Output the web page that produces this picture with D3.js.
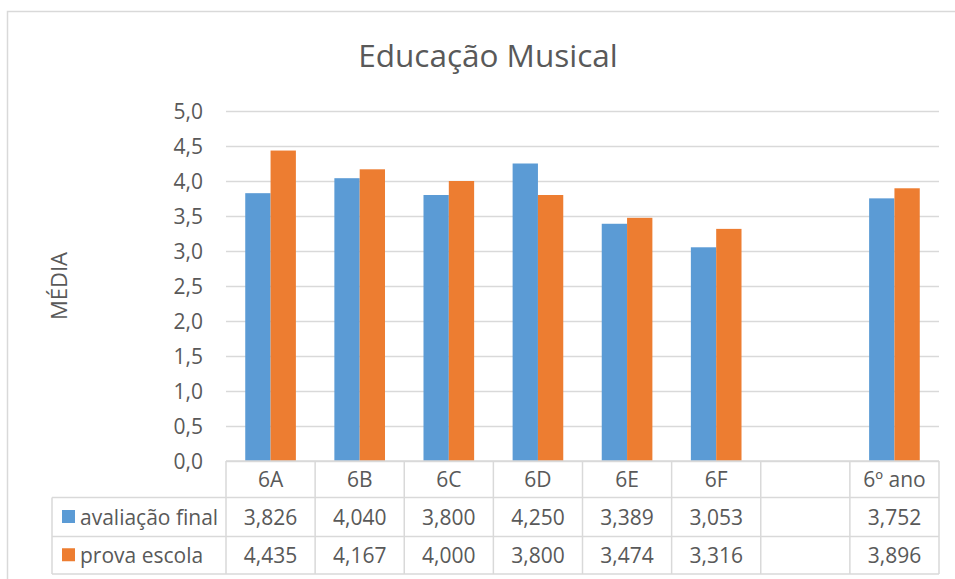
<!DOCTYPE html>
<html>
<head>
<meta charset="utf-8">
<script src="https://cdn.jsdelivr.net/npm/d3@7"></script>
<style>
  html, body { margin: 0; padding: 0; background: #fff; }
  svg text { font-family: "Open Sans", Lato, sans-serif; fill: #595959; }
</style>
</head>
<body>
<svg id="chart" width="955" height="579"></svg>
<script>
// Class groups along the x axis (one empty slot before the year total)
const categories = ["6A", "6B", "6C", "6D", "6E", "6F", "", "6º ano"];
const seriesNames = ["avaliação final", "prova escola"];
const avaliacaoFinal = [3.826, 4.040, 3.800, 4.250, 3.389, 3.053, null, 3.752];
const provaEscola = [4.435, 4.167, 4.000, 3.800, 3.474, 3.316, null, 3.896];
const yTicks = [0, 0.5, 1, 1.5, 2, 2.5, 3, 3.5, 4, 4.5, 5];
const seriesColors = ["#5B9BD5", "#ED7D31"];

const series = [avaliacaoFinal, provaEscola];

const pt = d3.formatLocale({ decimal: ",", thousands: ".", grouping: [3], currency: ["", "€"] });
const fmtTick = pt.format(".1f");
const fmtVal = pt.format(".3f");

const svg = d3.select("#chart");
const gridColor = "#d9d9d9";
const fontSize = "21px";

// Chart frame
svg.append("rect")
  .attr("x", 7.5).attr("y", 11.5)
  .attr("width", 960).attr("height", 600)
  .attr("fill", "none").attr("stroke", gridColor).attr("stroke-width", 1.5);

// Title
svg.append("text")
  .attr("x", 488).attr("y", 67)
  .attr("text-anchor", "middle")
  .style("font-size", "31.5px")
  .text("Educação Musical");

// Scales
const plotLeft = 226, plotRight = 939, plotTop = 111, plotBottom = 461;
const x = d3.scaleBand()
  .domain(d3.range(categories.length))
  .range([plotLeft, plotRight])
  .paddingInner(0).paddingOuter(0);
const xs = d3.scaleBand()
  .domain(d3.range(series.length))
  .range([0, x.bandwidth()])
  .paddingInner(0).paddingOuter(0.76);
const y = d3.scaleLinear().domain([0, 5]).range([plotBottom, plotTop]);

// Gridlines and y-axis labels
const yAxis = d3.axisLeft(y)
  .tickValues(yTicks)
  .tickFormat(fmtTick)
  .tickSize(-(plotRight - plotLeft))
  .tickPadding(23);
const gy = svg.append("g")
  .attr("transform", `translate(${plotLeft},0)`)
  .call(yAxis);
gy.select(".domain").remove();
gy.selectAll(".tick line").attr("stroke", gridColor).attr("stroke-width", 1.5);
gy.selectAll(".tick text")
  .style("font-size", fontSize)
  .attr("dy", "0.36em");

// Y-axis title
svg.append("text")
  .attr("transform", "translate(67,286) rotate(-90)")
  .attr("text-anchor", "middle")
  .style("font-size", "22px")
  .text("MÉDIA");

// Bars
series.forEach((vals, si) => {
  svg.append("g")
    .selectAll("rect")
    .data(vals.map((v, i) => ({ v, i })).filter(d => d.v != null))
    .join("rect")
    .attr("x", d => x(d.i) + xs(si))
    .attr("width", xs.bandwidth())
    .attr("y", d => y(d.v))
    .attr("height", d => y(0) - y(d.v))
    .attr("fill", seriesColors[si]);
});

// Data table below the axis
const rowTop = [plotBottom, 497.5, 536.5];
const rowBottom = 574;
const tableLeft = 52;
const table = svg.append("g")
  .attr("stroke", gridColor).attr("stroke-width", 1.5).attr("fill", "none");

// horizontal rules
table.append("line").attr("x1", plotLeft).attr("x2", plotRight)
  .attr("y1", rowTop[0]).attr("y2", rowTop[0]);
[rowTop[1], rowTop[2], rowBottom].forEach(yy => {
  table.append("line").attr("x1", tableLeft).attr("x2", plotRight)
    .attr("y1", yy).attr("y2", yy);
});
// vertical rules
table.append("line").attr("x1", tableLeft).attr("x2", tableLeft)
  .attr("y1", rowTop[1]).attr("y2", rowBottom);
d3.range(categories.length + 1).forEach(i => {
  const xx = i < categories.length ? x(i) : plotRight;
  table.append("line").attr("x1", xx).attr("x2", xx)
    .attr("y1", rowTop[0]).attr("y2", rowBottom);
});

// header labels
svg.append("g").selectAll("text")
  .data(categories)
  .join("text")
  .attr("x", (d, i) => x(i) + x.bandwidth() / 2)
  .attr("y", (rowTop[0] + rowTop[1]) / 2)
  .attr("dy", "0.36em")
  .attr("text-anchor", "middle")
  .style("font-size", fontSize)
  .text(d => d);

// series rows
series.forEach((vals, si) => {
  const top = rowTop[si + 1];
  const bottom = si + 2 < rowTop.length ? rowTop[si + 2] : rowBottom;
  const cy = (top + bottom) / 2;
  svg.append("rect")
    .attr("x", 62).attr("y", cy - 7)
    .attr("width", 13).attr("height", 13)
    .attr("fill", seriesColors[si]);
  svg.append("text")
    .attr("x", 80).attr("y", cy).attr("dy", "0.36em")
    .style("font-size", fontSize)
    .text(seriesNames[si]);
  svg.append("g").selectAll("text")
    .data(vals.map((v, i) => ({ v, i })).filter(d => d.v != null))
    .join("text")
    .attr("x", d => x(d.i) + x.bandwidth() / 2)
    .attr("y", cy).attr("dy", "0.36em")
    .attr("text-anchor", "middle")
    .style("font-size", fontSize)
    .text(d => fmtVal(d.v));
});
</script>
</body>
</html>
